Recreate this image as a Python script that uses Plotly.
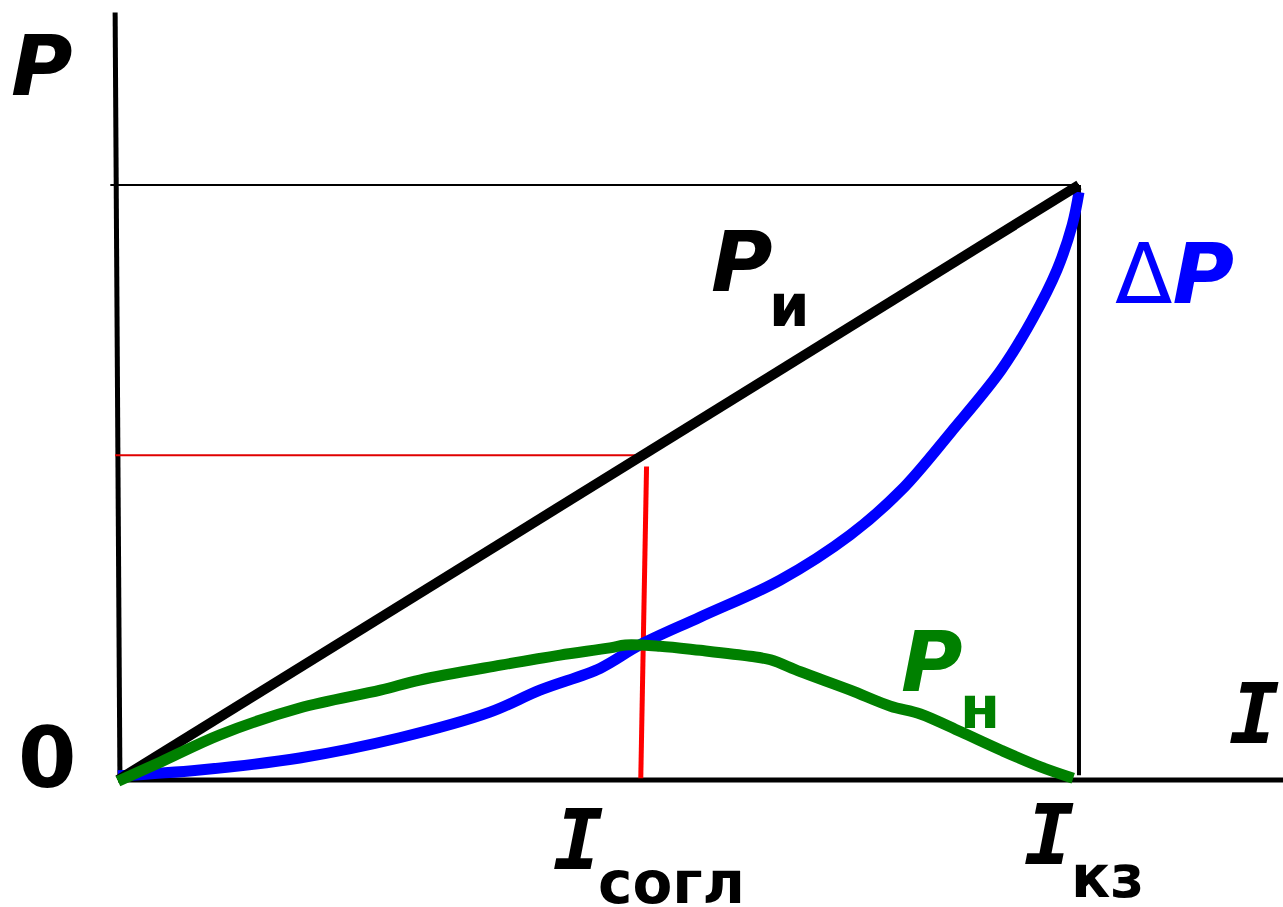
import plotly.graph_objects as go

# ---- data (arbitrary units: I_kz = 10, P_max = 10) ----
I_kz = 10.0
P_max = 10.0
I_sogl = 5.5

# P_и : source power, linear in current
Pi_I = [0.0, I_kz]
Pi_P = [0.0, P_max]

# ΔP : losses
dP_I = [0.0, 0.85, 1.89, 2.93, 3.87, 4.39, 5.02, 5.43, 6.06, 6.89, 7.62, 8.15, 8.67, 9.19, 9.51, 9.77, 9.93, 10.0]
dP_P = [0.07, 0.17, 0.37, 0.71, 1.14, 1.51, 1.88, 2.27, 2.74, 3.36, 4.12, 4.87, 5.85, 6.89, 7.73, 8.57, 9.33, 9.88]

# P_н : load power
Pn_I = [0.0, 0.44, 1.06, 1.89, 2.73, 3.14, 3.98, 4.6, 5.12, 5.28, 5.64, 6.06, 6.58, 6.79, 7.1, 7.62, 8.04, 8.35, 8.77, 9.19, 9.6, 9.94]
Pn_P = [-0.02, 0.3, 0.76, 1.21, 1.51, 1.68, 1.93, 2.1, 2.22, 2.27, 2.25, 2.18, 2.08, 2.02, 1.82, 1.51, 1.24, 1.11, 0.81, 0.5, 0.22, 0.03]

# axes / guide lines
yaxis_I = [-0.03, 0.02]
yaxis_P = [12.9, 0.0]
xaxis_I = [0.0, 12.2]
xaxis_P = [0.0, 0.0]
top_I = [-0.08, I_kz]
top_P = [P_max, P_max]
kz_I = [I_kz, I_kz]
kz_P = [P_max, 0.08]
red_h_I = [-0.03, I_sogl]
red_h_P = [5.46, 5.46]
red_v_I = [5.5, 5.44]
red_v_P = [5.27, 0.03]

XR = [-1.228, 12.123]
YR = [-2.134, 13.109]

fig = go.Figure()

def line(x, y, color, w, shape="linear"):
    fig.add_trace(go.Scatter(x=x, y=y, mode="lines", line=dict(color=color, width=w, shape=shape),
                             showlegend=False, hoverinfo="skip"))

line(yaxis_I, yaxis_P, "black", 5)
line(xaxis_I, xaxis_P, "black", 5)
line(top_I, top_P, "black", 2)
line(kz_I, kz_P, "black", 4)
line(red_h_I, red_h_P, "#e00000", 2)
line(red_v_I, red_v_P, "red", 5)
line(dP_I, dP_P, "blue", 11, "spline")
line(Pi_I, Pi_P, "black", 10)
line(Pn_I, Pn_P, "green", 11, "spline")

F = "DejaVu Sans"
M = "DejaVu Sans Mono"

def txt(x, y, t, color="black", size=84, family=F, weight="bold", style="normal"):
    fig.add_annotation(x=x, y=y, text=t, showarrow=False, xref="x", yref="y",
                       font=dict(family=family, size=size, color=color, weight=weight, style=style),
                       xanchor="center", yanchor="middle")

def px(xp, yp):
    return ((xp - 118) / 96.1, (780 - yp) / 59.5)

txt(*px(42, 66), "P", style="italic")
txt(*px(47, 758), "0")
txt(*px(742, 262), "P", style="italic")
txt(*px(790, 306), "и", size=58)
txt(*px(1175, 274), "Δ<b><i>P</i></b>", color="blue", weight="normal")
txt(*px(932, 662), "P", color="green", style="italic")
txt(*px(980, 708), "н", color="green", size=58)
txt(*px(1255, 714), "I", family=M, style="italic")
txt(*px(578, 840), "I", family=M, style="italic")
txt(*px(672, 883), "согл", size=58)
txt(*px(1050, 835), "I", family=M, style="italic")
txt(*px(1108, 877), "кз", size=58)

fig.update_layout(
    width=1283, height=907, margin=dict(l=0, r=0, t=0, b=0),
    paper_bgcolor="white", plot_bgcolor="white",
    xaxis=dict(range=XR, visible=False, fixedrange=True),
    yaxis=dict(range=YR, visible=False, fixedrange=True),
)
fig.write_html("out.html", config={"displayModeBar": False},
               post_script="document.body.style.margin='0';document.body.style.overflow='hidden';")
